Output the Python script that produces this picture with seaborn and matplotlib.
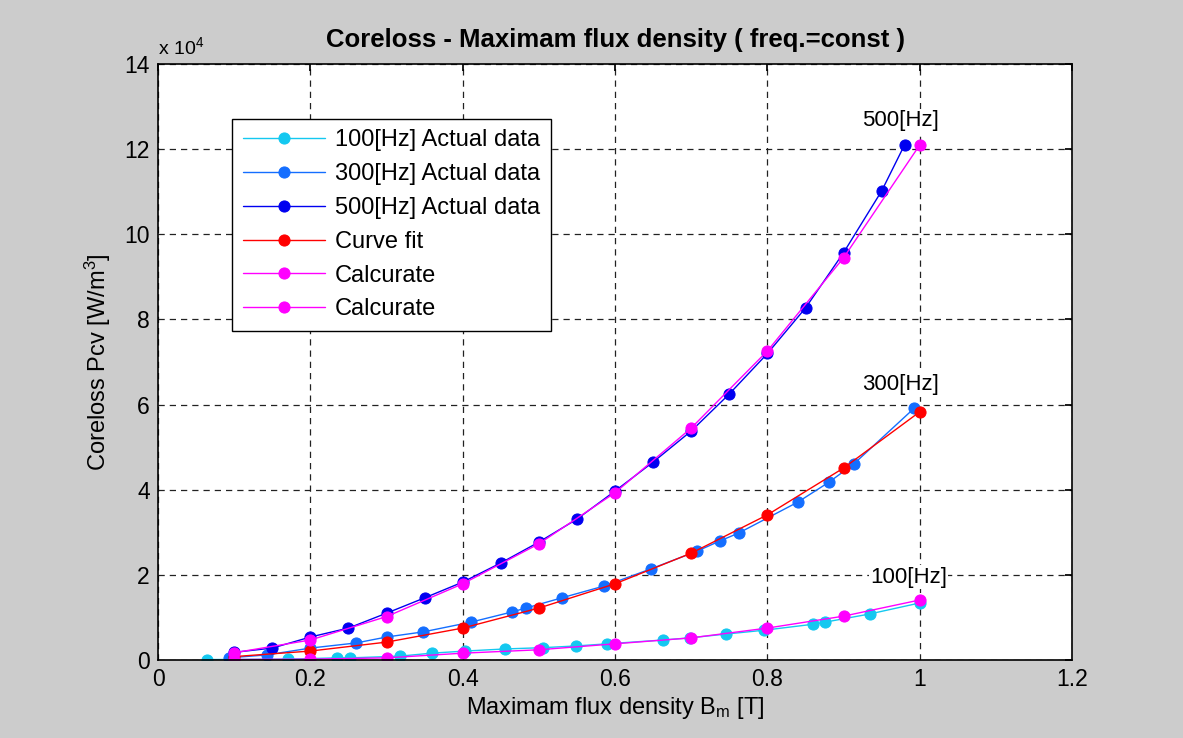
import matplotlib
matplotlib.use("Agg")
import matplotlib.pyplot as plt
import matplotlib.ticker as mticker
import seaborn as sns
import numpy as np

# ---- data (values in W/m^3) ----
x100_act = [0.064, 0.17, 0.235, 0.252, 0.317, 0.359, 0.403, 0.456, 0.506, 0.549, 0.59,
            0.663, 0.698, 0.746, 0.796, 0.86, 0.876, 0.934, 1.0]
y100_act = [100, 200, 500, 500, 900, 1600, 2100, 2600, 2900, 3300, 3800,
            4700, 5200, 6100, 7000, 8400, 8900, 10800, 13400]

x300_act = [0.093, 0.143, 0.2, 0.26, 0.30, 0.348, 0.411, 0.465, 0.483, 0.53, 0.586,
            0.647, 0.708, 0.738, 0.762, 0.84, 0.881, 0.913, 0.993]
y300_act = [500, 1200, 2800, 4000, 5400, 6600, 8900, 11300, 12200, 14600, 17400,
            21400, 25600, 28000, 29800, 37100, 41800, 46000, 59200]

x500_act = [0.1, 0.15, 0.2, 0.25, 0.3, 0.35, 0.4, 0.45, 0.5, 0.55, 0.6, 0.65, 0.7,
            0.75, 0.8, 0.85, 0.9, 0.95, 0.98]
y500_act = [1800, 2800, 5400, 7500, 11000, 14600, 18300, 22800, 27700, 33100, 39700,
            46500, 53800, 62500, 72000, 82700, 95700, 110200, 121000]

x_fit = [0.1, 0.2, 0.3, 0.4, 0.5, 0.6, 0.7, 0.8, 0.9, 1.0]
y_fit300 = [800, 2100, 4200, 7500, 12200, 17900, 25100, 34100, 45100, 58300]

x_calc = [0.1, 0.2, 0.3, 0.4, 0.5, 0.6, 0.7, 0.8, 0.9, 1.0]
y_calc500 = [1700, 4700, 10200, 17900, 27300, 39300, 54500, 72600, 94500, 121000]
y_calc100 = [100, 200, 500, 1600, 2400, 3800, 5200, 7500, 10300, 14100]

labels = ["100[Hz] Actual data", "300[Hz] Actual data", "500[Hz] Actual data",
          "Curve fit", "Calcurate", "Calcurate"]
colors = ["#14c8f0", "#146eff", "#0000f0", "#ff0000", "#ff00ff", "#ff00ff"]

freq_labels = ["500[Hz]", "300[Hz]", "100[Hz]"]

sns.set_theme(style="white")
plt.rcParams['font.family'] = ['Liberation Sans', 'DejaVu Sans']
plt.rcParams['mathtext.fontset'] = 'custom'
plt.rcParams['mathtext.rm'] = 'Liberation Sans'
plt.rcParams['mathtext.it'] = 'Liberation Sans'
plt.rcParams['text.color'] = 'black'
plt.rcParams['axes.labelcolor'] = 'black'
plt.rcParams['xtick.color'] = 'black'
plt.rcParams['ytick.color'] = 'black'

fig = plt.figure(figsize=(11.83, 7.38), dpi=100, facecolor="#cccccc")
ax = fig.add_axes([0.1336, 0.1057, 0.7727, 0.8076])
ax.set_facecolor("white")

series = [(x100_act, y100_act), (x300_act, y300_act), (x500_act, y500_act),
          (x_fit, y_fit300), (x_calc, y_calc500), (x_calc, y_calc100)]
for (xs, ys), lab, c in zip(series, labels, colors):
    sns.lineplot(x=xs, y=ys, ax=ax, color=c, label=lab, marker="o", markersize=8,
                 markeredgecolor=c, linewidth=1.0, sort=False)

ax.set_xlim(0, 1.2)
ax.set_ylim(0, 140000)
ax.set_xticks(np.arange(0, 1.21, 0.2))
ax.set_yticks(np.arange(0, 140001, 20000))
ax.xaxis.set_major_formatter(mticker.FuncFormatter(lambda v, p: ("%g" % round(v, 2))))
ax.yaxis.set_major_formatter(mticker.FuncFormatter(lambda v, p: "%d" % round(v / 1e4)))
ax.tick_params(direction="in", length=5, labelsize=16.5, colors="black", pad=6)
ax.tick_params(top=True, right=True)
for s in ax.spines.values():
    s.set_color("black")
    s.set_linewidth(1.2)
ax.grid(True, linestyle=(0, (5, 4)), color="#222222", linewidth=0.9)

ax.text(0.0, 1.01, r"x 10$^4$", transform=ax.transAxes, fontsize=14, ha="left", va="bottom")
ax.set_title("Coreloss - Maximam flux density ( freq.=const )", fontsize=18.5,
             fontweight="bold", pad=12)
ax.set_xlabel(r"Maximam flux density B$_m$ [T]", fontsize=17, labelpad=3)
ax.set_ylabel(r"Coreloss Pcv [W/m$^3$]", fontsize=17, labelpad=8)

bb = dict(facecolor="white", edgecolor="none", pad=1)
ax.text(0.975, 124200, freq_labels[0], fontsize=16, ha="center", va="bottom", bbox=bb)
ax.text(0.975, 62200, freq_labels[1], fontsize=16, ha="center", va="bottom", bbox=bb)
ax.text(0.985, 17000, freq_labels[2], fontsize=16, ha="center", va="bottom", bbox=bb)

leg = ax.legend(loc="upper left", bbox_to_anchor=(0.081, 0.908), fontsize=17,
                frameon=True, fancybox=False, edgecolor="black", framealpha=1,
                borderpad=0.45, labelspacing=0.5, handlelength=3.5, handletextpad=0.4,
                borderaxespad=0)
leg.get_frame().set_linewidth(1.0)

fig.savefig("out.png", dpi=100, facecolor=fig.get_facecolor())
